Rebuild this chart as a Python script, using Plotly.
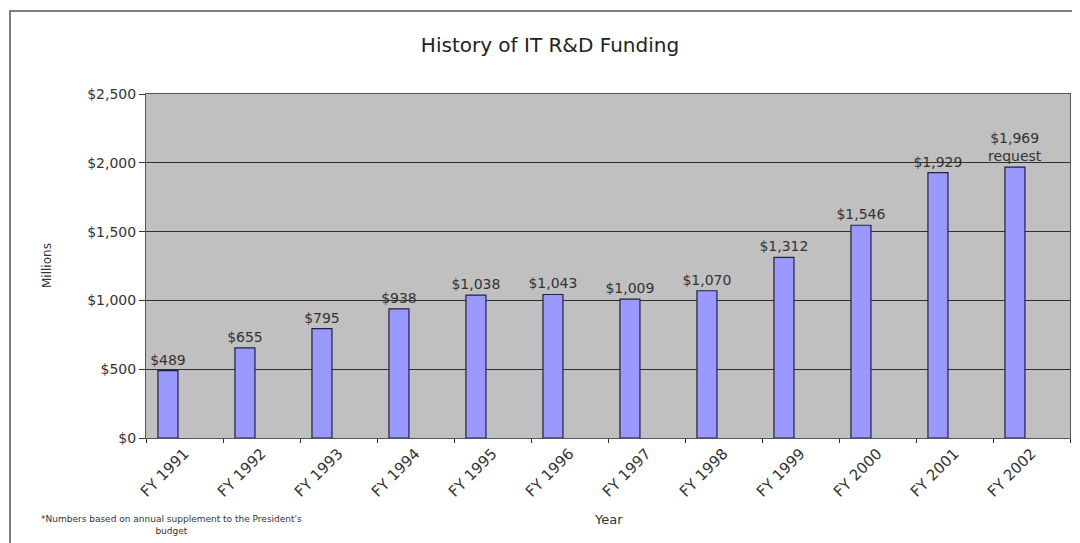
import plotly.graph_objects as go

years = ["FY 1991", "FY 1992", "FY 1993", "FY 1994", "FY 1995", "FY 1996",
         "FY 1997", "FY 1998", "FY 1999", "FY 2000", "FY 2001", "FY 2002"]
funding = [489, 655, 795, 938, 1038, 1043, 1009, 1070, 1312, 1546, 1929, 1969]
bar_labels = ["$489", "$655", "$795", "$938", "$1,038", "$1,043", "$1,009",
              "$1,070", "$1,312", "$1,546", "$1,929", "$1,969<br>request"]
y_ticks = [0, 500, 1000, 1500, 2000, 2500]
y_tick_labels = ["$0", "$500", "$1,000", "$1,500", "$2,000", "$2,500"]

FONT = "DejaVu Sans"
TXT = "#333333"

# page renders the figure offset by ~8px (body margin)
W, H = 1072, 535
ML, MT, MR, MB = 138, 86, 10, 105
PW, PH = W - ML - MR, H - MT - MB

def px_x(ax):  # absolute screen x -> paper x
    return (ax - 8 - ML) / PW

def px_y(ay):  # absolute screen y -> paper y
    return 1 - (ay - 8 - MT) / PH

fig = go.Figure()
fig.add_trace(go.Bar(
    x=years, y=funding,
    text=bar_labels, textposition="outside", cliponaxis=False,
    constraintext="none",
    textfont=dict(family=FONT, size=14, color=TXT),
    marker=dict(color="#9999FF", line=dict(color="#202040", width=1.2)),
    width=0.26, offset=-0.345,
    hoverinfo="x+y",
))

fig.update_layout(
    width=W, height=H,
    margin=dict(l=ML, r=MR, t=MT, b=MB),
    paper_bgcolor="white", plot_bgcolor="#C0C0C0",
    showlegend=False,
    title=dict(text="History of IT R&D Funding", x=(550 - 8) / W, xanchor="center",
               y=1 - (45 - 8) / H, yanchor="middle",
               font=dict(family=FONT, size=20, color="#222222")),
    xaxis=dict(type="category", tickangle=-45, tickson="boundaries",
               ticks="outside", ticklen=4, tickcolor="#333333",
               showline=True, linecolor="#555555", linewidth=1, mirror=True,
               showgrid=False,
               tickfont=dict(family=FONT, size=15, color=TXT)),
    yaxis=dict(range=[0, 2500], tickvals=y_ticks, ticktext=y_tick_labels,
               ticks="outside", ticklen=6, tickcolor="#333333",
               showline=True, linecolor="#555555", linewidth=1, mirror=True,
               showgrid=True, gridcolor="#303030", gridwidth=1,
               zeroline=False,
               tickfont=dict(family=FONT, size=14, color=TXT)),
    shapes=[dict(type="rect", xref="paper", yref="paper",
                 x0=px_x(10), x1=px_x(1200), y0=px_y(700), y1=px_y(11),
                 line=dict(color="#555555", width=1.5), fillcolor="rgba(0,0,0,0)")],
    annotations=[
        dict(text="Millions", xref="paper", yref="paper", x=px_x(47), y=px_y(266),
             textangle=-90, showarrow=False, xanchor="center", yanchor="middle",
             font=dict(family=FONT, size=12, color=TXT)),
        dict(text="Year", xref="paper", yref="paper", x=px_x(608), y=px_y(519),
             showarrow=False, xanchor="center", yanchor="middle",
             font=dict(family=FONT, size=13, color=TXT)),
        dict(text="*Numbers based on annual supplement to the President's<br>budget",
             xref="paper", yref="paper", x=px_x(171), y=px_y(525),
             showarrow=False, xanchor="center", yanchor="middle", align="center",
             font=dict(family=FONT, size=9, color=TXT)),
    ],
)

fig.write_html("out.html")
